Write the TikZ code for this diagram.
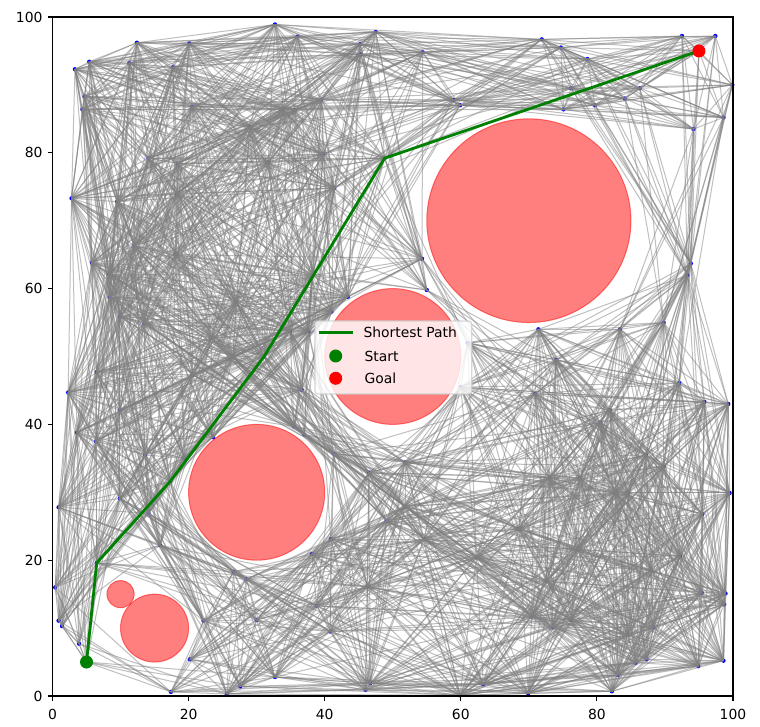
\documentclass[tikz,border=0pt]{standalone}
\usepackage{fontspec}
\setmainfont{DejaVu Sans}

\newcommand\prmnodes{5/5, 6.5/19.6, 14.1/26.9, 17.3/31.6, 23.6/38.1, 31.1/50.0, 48.8/79.2, 95/95,
32.7/98.9, 12.4/96.2, 20.1/96.1, 5.4/93.4, 3.3/92.3, 11.3/93.2, 17.7/92.6, 4.7/88.3, 4.4/86.4, 20.5/86.8, 29.0/83.8, 31.7/78.6, 14.1/79.2, 18.4/78.4, 18.3/74.0, 2.8/73.3, 9.5/72.8, 12.0/66.3,
36.0/97.1, 47.5/97.8, 45.2/96.0, 45.3/94.5, 54.4/94.8, 39.5/87.8, 33.9/86.4, 35.6/86.3, 58.9/87.8, 59.9/87.0, 39.8/79.8, 41.4/74.8,
71.9/96.7, 74.7/95.5, 78.6/93.8, 92.5/97.2, 97.4/97.2, 99.9/90.0, 98.6/85.2, 94.2/83.5, 75.1/86.4, 79.7/87.0, 84.1/88.0, 86.3/89.5, 76.2/89.5,
5.8/63.8, 8.3/62.1, 18.1/65.0, 8.4/58.7, 9.9/55.9, 13.5/54.9, 23.3/52.7, 26.5/50.0, 20.6/47.3, 6.5/47.7, 2.3/44.7, 3.6/38.8, 6.4/37.5, 19.4/35.0, 9.9/42.1, 27.0/58.0,
54.3/64.4, 55.0/59.8, 43.4/58.8, 41.0/56.6, 38.2/61.9, 35.5/39.7, 37.0/38.5, 41.3/35.7, 46.5/32.9, 51.8/34.4, 60.0/45.5, 61.0/52.0,
93.8/63.7, 93.3/62.0, 89.8/55.0, 71.4/54.0, 83.4/54.0, 74.0/49.5, 92.1/46.1, 95.8/43.3, 99.3/43.0, 70.9/44.5, 81.9/42.1, 80.5/40.3, 87.2/35.5, 89.8/33.8, 73.0/32.1, 77.5/32.1,
0.9/27.8, 0.4/16.0, 0.9/11.1, 1.4/10.3, 3.9/7.7, 15.8/22.2, 20.2/5.4, 17.4/0.6, 22.2/11.1, 26.6/18.3, 28.5/17.2, 25.6/0.3, 27.6/1.4, 30.0/11.2, 32.7/2.8,
51.8/27.9, 49.1/25.8, 40.9/23.1, 54.6/23.1, 62.3/20.4, 38.1/20.9, 46.3/16.1, 38.8/13.3, 40.8/9.5, 46.7/1.9, 46.0/0.9, 59.9/0.1, 63.3/1.7,
82.7/29.9, 84.6/29.9, 99.5/29.9, 95.5/26.8, 68.5/24.6, 77.2/21.6, 92.2/20.6, 72.6/16.9, 98.9/15.1, 98.7/13.5, 95.4/15.2, 70.4/11.7, 73.5/10.1, 76.2/11.2, 88.3/10.1, 98.6/5.2, 94.9/4.4, 87.3/5.4, 85.7/4.9, 83.1/3.1, 82.2/0.7, 69.9/0.4,
34.9/53.7, 37.6/53.7, 36.6/45.1, 13.6/35.5, 9.9/29.1, 88.0/18.5, 84.5/9.0}

\newcommand\prmedge[2]{\draw[prmline] (n#1) -- (n#2);}

\ExplSyntaxOn
\int_new:N \g_prm_n_int
\int_new:N \l_prm_xi_int
\int_new:N \l_prm_yi_int
\int_new:N \l_prm_xj_int
\int_new:N \l_prm_yj_int
\int_new:N \l_prm_dx_int
\int_new:N \l_prm_dy_int
\int_new:N \l_prm_ll_int
\int_new:N \l_prm_ex_int
\int_new:N \l_prm_ey_int
\int_new:N \l_prm_dot_int
\int_new:N \l_prm_dd_int
\int_new:N \l_prm_cr_int
\bool_new:N \l_prm_ok_bool
\cs_new_protected:Npn \prm_store:nnn #1#2#3
  {
    \cs_gset:cpx {prmx#1} { \fp_eval:n { round(10*(#2)) } }
    \cs_gset:cpx {prmy#1} { \fp_eval:n { round(10*(#3)) } }
    \int_gset:Nn \g_prm_n_int {#1}
  }
\cs_new_protected:Npn \prm_check:nnn #1#2#3
  {
    \bool_if:NT \l_prm_ok_bool
      {
        \int_set:Nn \l_prm_ex_int { #1 - \l_prm_xi_int }
        \int_set:Nn \l_prm_ey_int { #2 - \l_prm_yi_int }
        \int_set:Nn \l_prm_dot_int { \l_prm_ex_int * \l_prm_dx_int + \l_prm_ey_int * \l_prm_dy_int }
        \int_compare:nNnTF \l_prm_dot_int < 0
          { \int_set:Nn \l_prm_dd_int { \l_prm_ex_int * \l_prm_ex_int + \l_prm_ey_int * \l_prm_ey_int } }
          {
            \int_compare:nNnTF \l_prm_dot_int > \l_prm_ll_int
              { \int_set:Nn \l_prm_dd_int { (#1 - \l_prm_xj_int) * (#1 - \l_prm_xj_int) + (#2 - \l_prm_yj_int) * (#2 - \l_prm_yj_int) } }
              {
                \int_set:Nn \l_prm_cr_int { \l_prm_ex_int * \l_prm_dy_int - \l_prm_ey_int * \l_prm_dx_int }
                \int_set:Nn \l_prm_dd_int { \l_prm_cr_int * \l_prm_cr_int / \l_prm_ll_int }
              }
          }
        \int_compare:nNnT \l_prm_dd_int < { (#3 + 3) * (#3 + 3) }
          { \bool_set_false:N \l_prm_ok_bool }
      }
  }
\cs_new_protected:Npn \prm_try:nn #1#2
  {
    \int_set:Nn \l_prm_xi_int { \use:c {prmx#1} }
    \int_set:Nn \l_prm_yi_int { \use:c {prmy#1} }
    \int_set:Nn \l_prm_xj_int { \use:c {prmx#2} }
    \int_set:Nn \l_prm_yj_int { \use:c {prmy#2} }
    \int_set:Nn \l_prm_dx_int { \l_prm_xj_int - \l_prm_xi_int }
    \int_set:Nn \l_prm_dy_int { \l_prm_yj_int - \l_prm_yi_int }
    \int_set:Nn \l_prm_ll_int { \l_prm_dx_int * \l_prm_dx_int + \l_prm_dy_int * \l_prm_dy_int }
    \int_compare:nNnT \l_prm_ll_int < { 160000 }
      {
        \bool_set_true:N \l_prm_ok_bool
        \prm_check:nnn {700} {700} {150}
        \prm_check:nnn {500} {500} {100}
        \prm_check:nnn {300} {300} {100}
        \prm_check:nnn {150} {100} {50}
        \prm_check:nnn {100} {150} {20}
        \bool_if:NT \l_prm_ok_bool { \prmedge {#1} {#2} }
      }
  }
\cs_new_protected:Npn \prm_edges:
  {
    \int_step_inline:nnn { 1 } { \g_prm_n_int - 1 }
      {
        \int_step_inline:nnn { ##1 + 1 } { \g_prm_n_int }
          { \prm_try:nn { ##1 } { ####1 } }
      }
  }
\cs_new_eq:NN \prmstore \prm_store:nnn
\cs_new_eq:NN \prmdrawedges \prm_edges:
\ExplSyntaxOff

\definecolor{mplgreen}{RGB}{0,128,0}
\definecolor{legedge}{RGB}{204,204,204}
\newcommand\ticksize{\fontsize{13.9}{16.7}\selectfont}

\tikzset{
  prmline/.style={draw=gray, line width=1.0pt, opacity=0.5},
  prmdot/.style={fill=blue},
  obst/.style={fill=red, draw=red, line width=1pt, opacity=0.5},
  pathline/.style={draw=mplgreen, line width=2.8pt, line join=round},
  frame/.style={draw=black, line width=1.1pt},
  ticklabel/.style={font=\ticksize, inner sep=0pt, text=black},
  legtext/.style={font=\ticksize, inner sep=0pt, anchor=west, text=black}
}

\begin{document}
\begin{tikzpicture}[x=6.805pt, y=6.79pt]
\path[use as bounding box, fill=white] (-52.5pt,-31pt) rectangle (707.5pt,696pt);

% roadmap nodes
\foreach[count=\i] \x/\y in \prmnodes {
  \coordinate (n\i) at (\x,\y);
  \prmstore{\i}{\x}{\y}
  \fill[prmdot] (n\i) circle (2.2pt);
}

% roadmap edges (within radius, collision free)
\prmdrawedges

% obstacles
\path[obst] (70,70) circle [radius=15];
\path[obst] (50,50) circle [radius=10];
\path[obst] (30,30) circle [radius=10];
\path[obst] (15,10) circle [radius=5];
\path[obst] (10,15) circle [radius=2];

% shortest path
\draw[pathline] (n1) -- (n2) -- (n4) -- (n6) -- (n7) -- (n8);
\fill[mplgreen] (n1) circle (6.5pt);
\fill[red] (n8) circle (6.5pt);

% axes
\draw[frame] (0,0) rectangle (100,100);
\foreach \t in {0,20,40,60,80,100} {
  \draw[frame] (\t,0) -- ++(0pt,-4.9pt);
  \draw[frame] (0,\t) -- ++(-4.9pt,0pt);
  \node[ticklabel, anchor=north] (xt\t) at ([yshift=-13.3pt]\t,0) {\t};
  \node[ticklabel, anchor=east] (yt\t) at ([xshift=-9.8pt]0,\t) {\t};
}

% legend
\draw[fill=white, fill opacity=0.8, draw=legedge, draw opacity=0.8, line width=1.1pt, rounded corners=3pt]
  (262.5pt,302pt) rectangle (419.2pt,375pt);
\coordinate (la) at (266.8pt,363.3pt);
\coordinate (lb) at (300.2pt,363.3pt);
\draw[pathline] (la) -- (lb);
\node[legtext] (l1) at (310.8pt,363.3pt) {Shortest Path};
\fill[mplgreen] (283.2pt,340pt) circle (6.5pt);
\node[legtext] (l2) at (311.8pt,340pt) {Start};
\fill[red] (283.2pt,317.7pt) circle (6.5pt);
\node[legtext] (l3) at (311.8pt,317.7pt) {Goal};
\end{tikzpicture}
\end{document}
